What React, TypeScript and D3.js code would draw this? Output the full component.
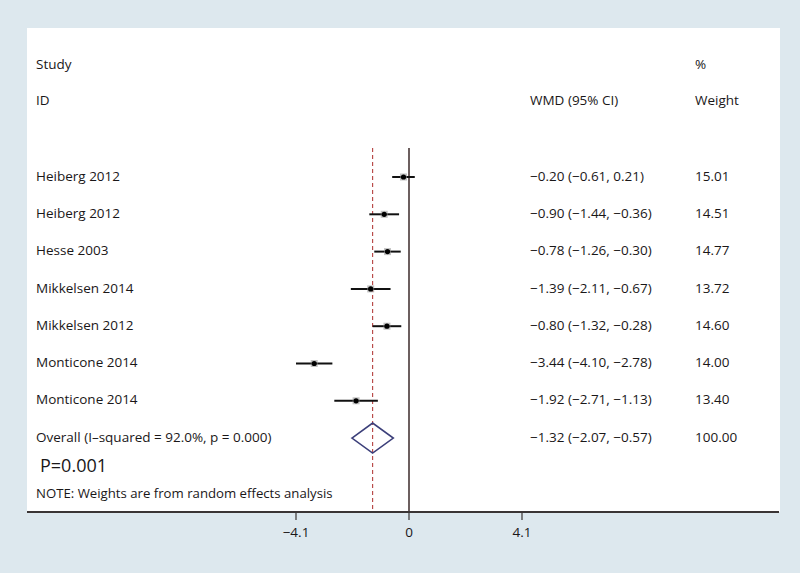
import React from "react";
import * as d3 from "d3";

const studies = ["Heiberg 2012", "Heiberg 2012", "Hesse 2003", "Mikkelsen 2014", "Mikkelsen 2012", "Monticone 2014", "Monticone 2014"];
const estimates = [-0.2, -0.9, -0.78, -1.39, -0.8, -3.44, -1.92];
const lowers = [-0.61, -1.44, -1.26, -2.11, -1.32, -4.1, -2.71];
const uppers = [0.21, -0.36, -0.3, -0.67, -0.28, -2.78, -1.13];
const weights = ["15.01", "14.51", "14.77", "13.72", "14.60", "14.00", "13.40"];
const overall = { est: -1.32, lo: -2.07, hi: -0.57, label: "Overall  (I\u2013squared = 92.0%, p = 0.000)", weight: "100.00" };
const xTicks = [-4.1, 0, 4.1];

const fmt = (v: number) => (v < 0 ? "\u2212" : "") + Math.abs(v).toFixed(2);
const ciText = (e: number, l: number, u: number) => `${fmt(e)} (${fmt(l)}, ${fmt(u)})`;

export default function App() {
  const W = 800, H = 573;
  const x = d3.scaleLinear().domain([-4.1, 4.1]).range([296, 522]);
  const rowY = d3.scaleLinear().domain([0, 1]).range([177, 214.3]);
  const font = "'Open Sans', sans-serif";
  const fs = 13.5;
  const col = "#1a1718";
  const axisY = 512;
  const lineTop = 148;
  const oy = rowY(studies.length);
  return (
    <svg width={W} height={H} style={{ position: "absolute", left: 0, top: 0 }} fontFamily={font}>
      <rect x={0} y={0} width={W} height={H} fill="#dde8ee" />
      <rect x={27} y={28} width={753} height={axisY - 28} fill="#ffffff" />
      <g fill={col} fontSize={fs}>
        <text x={36} y={65} dominantBaseline="middle">Study</text>
        <text x={36} y={101} dominantBaseline="middle">ID</text>
        <text x={530} y={101} dominantBaseline="middle">WMD (95% CI)</text>
        <text x={695} y={65} dominantBaseline="middle">%</text>
        <text x={695} y={101} dominantBaseline="middle">Weight</text>
      </g>
      {/* zero line */}
      <line x1={x(0)} x2={x(0)} y1={lineTop} y2={axisY} stroke="#3b2a2a" strokeWidth={1.5} />
      {/* overall dashed line */}
      <line x1={x(overall.est)} x2={x(overall.est)} y1={lineTop} y2={axisY} stroke="#b5413f" strokeWidth={1.1} strokeDasharray="4,3" />
      {studies.map((s, i) => {
        const y = rowY(i);
        return (
          <g key={i}>
            <text x={36} y={y} dominantBaseline="middle" fontSize={fs} fill={col}>{s}</text>
            <line x1={x(lowers[i])} x2={x(uppers[i])} y1={y} y2={y} stroke="#111" strokeWidth={2} />
            <rect x={x(estimates[i]) - 3.5} y={y - 3.5} width={7} height={7} fill="#9a9a9a" opacity={0.6} />
            <circle cx={x(estimates[i])} cy={y} r={2.6} fill="#000" />
            <text x={530} y={y} dominantBaseline="middle" fontSize={fs} fill={col}>{ciText(estimates[i], lowers[i], uppers[i])}</text>
            <text x={695} y={y} dominantBaseline="middle" fontSize={fs} fill={col}>{weights[i]}</text>
          </g>
        );
      })}
      <text x={36} y={oy} dominantBaseline="middle" fontSize={fs} fill={col}>{overall.label}</text>
      <path
        d={`M${x(overall.lo)},${oy} L${x(overall.est)},${oy - 15} L${x(overall.hi)},${oy} L${x(overall.est)},${oy + 15} Z`}
        fill="none"
        stroke="#3c3f7a"
        strokeWidth={1.6}
      />
      <text x={530} y={oy} dominantBaseline="middle" fontSize={fs} fill={col}>{ciText(overall.est, overall.lo, overall.hi)}</text>
      <text x={695} y={oy} dominantBaseline="middle" fontSize={fs} fill={col}>{overall.weight}</text>
      <text x={40} y={467} dominantBaseline="middle" fontSize={18} fill={col}>P=0.001</text>
      <text x={36} y={494} dominantBaseline="middle" fontSize={13.2} fill={col}>NOTE: Weights are from random effects analysis</text>
      {/* axis */}
      <line x1={27} x2={779} y1={axisY} y2={axisY} stroke="#3a3535" strokeWidth={2} />
      {xTicks.map((t) => (
        <g key={t}>
          <line x1={x(t)} x2={x(t)} y1={axisY} y2={axisY + 8} stroke="#3a3535" strokeWidth={1.2} />
          <text x={x(t)} y={533} textAnchor="middle" dominantBaseline="middle" fontSize={13.5} fill={col}>
            {t < 0 ? "\u2212" + Math.abs(t) : String(t)}
          </text>
        </g>
      ))}
    </svg>
  );
}
